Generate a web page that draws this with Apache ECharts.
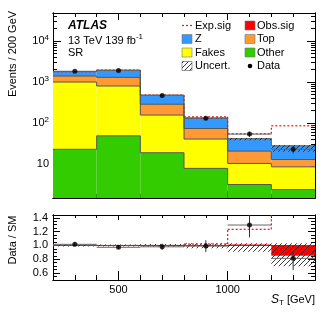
<!DOCTYPE html>
<html><head><meta charset="utf-8">
<script src="https://cdn.jsdelivr.net/npm/echarts@6/dist/echarts.min.js"></script>
<style>html,body{margin:0;padding:0;background:#fff}#c{width:332px;height:319px}</style>
</head><body><div id="c"></div>
<script>
// ---- data ----
const binEdges = [200, 400, 600, 800, 1000, 1200, 1400];
const binCenters = [300, 500, 700, 900, 1100, 1300];
const other = [23, 49, 19, 7.9, 3.2, 2.4];
const fakes = [977, 751, 138, 33, 7.2, 6.2];
const topq = [400, 500, 131, 33, 10.4, 4.4];
const zjets = [400, 650, 192, 59, 21, 15];
const dataVals = [1830, 1900, 470, 132, 54, 23];
const dataErr = [43, 44, 22, 11.5, 7.4, 4.8];
const expSigTotal = [1800, 1950, 480, 142, 55, 86];
const uncLoMain = [1775, 1925, 470, 127, 38.5, 20];
const uncHiMain = [1825, 1975, 490, 137, 43.5, 29.4];
const ratioVals = [1.016, 0.973, 0.98, 0.99, 1.295, 0.813];
const ratioErrLo = [0.03, 0.025, 0.045, 0.085, 0.18, 0.17];
const ratioErrHi = [0.03, 0.025, 0.045, 0.085, 0.20, 0.107];
const expSigRatio = [1.0, 1.0, 1.0, 1.02, 1.233, 3.2];
const obsSigRatio = [1.0, 1.0, 1.0, 1.0, 1.012, 0.85];
const uncLoRatio = [0.985, 0.985, 0.98, 0.96, 0.91, 0.70];
const uncHiRatio = [1.015, 1.015, 1.02, 1.03, 1.03, 1.03];
const xMajorTicks = [500, 1000];
const xMinorTicks = [300, 400, 600, 700, 800, 900, 1100, 1200, 1300];
const yMajorTicks = [10, 100, 1000, 10000];
const ratioMajorTicks = [0.6, 0.8, 1.0, 1.2, 1.4];
const ratioMinorTicks = [0.55, 0.65, 0.7, 0.75, 0.85, 0.9, 0.95, 1.05, 1.1, 1.15, 1.25, 1.3, 1.35];

const yMinorTicks = [];
[1, 10, 100, 1000, 10000].forEach(d => { for (let k = 2; k <= 9; k++) { const v = k * d; if (v > 1.5 && v < 48000) yMinorTicks.push(v); } });

const FONT = 'Liberation Sans, Arial, Helvetica, sans-serif';
const yMin = 1.5, yMax = 48000, rMin = 0.5, rMax = 1.44;

function makeHatch() {
  const c = document.createElement('canvas'); c.width = 5; c.height = 5;
  const g = c.getContext('2d'); g.strokeStyle = '#222'; g.lineWidth = 0.9;
  g.beginPath();
  g.moveTo(0, 5); g.lineTo(5, 0);
  g.moveTo(-1, 1); g.lineTo(1, -1);
  g.moveTo(4, 6); g.lineTo(6, 4);
  g.stroke();
  return c;
}
const hatch = { image: makeHatch(), repeat: 'repeat' };

// ---- axes ----
function xAx(grid, pos, ticks, len, labels) {
  return {
    type: 'value', gridIndex: grid, position: pos, min: 200, max: 1400,
    axisLine: { show: true, onZero: false, lineStyle: { color: '#000', width: 1 } },
    axisTick: { show: true, inside: true, length: len, customValues: ticks, lineStyle: { color: '#000', width: 1 } },
    axisLabel: labels ? { show: true, customValues: ticks, color: '#000', fontSize: 11, fontFamily: FONT, margin: 4, formatter: v => String(Math.round(v)) } : { show: false },
    splitLine: { show: false }
  };
}
function supFmt(v) {
  const e = Math.round(Math.log10(v));
  if (e === 1) return '{b|10}';
  return '{b|10}{s|' + e + '}';
}
function yLog(pos, ticks, len, labels) {
  return {
    type: 'log', logBase: 10, gridIndex: 0, position: pos, min: yMin, max: yMax,
    axisLine: { show: true, onZero: false, lineStyle: { color: '#000', width: 1 } },
    axisTick: { show: true, inside: true, length: len, customValues: ticks, lineStyle: { color: '#000', width: 1 } },
    axisLabel: labels ? {
      show: true, customValues: ticks, color: '#000', fontFamily: FONT, margin: 4, formatter: supFmt,
      rich: { b: { fontSize: 11, fontFamily: FONT, color: '#000' }, s: { fontSize: 8, fontFamily: FONT, color: '#000', padding: [0, 0, 7, 0] } }
    } : { show: false },
    splitLine: { show: false }
  };
}
function yRat(pos, ticks, len, labels) {
  return {
    type: 'value', gridIndex: 1, position: pos, min: rMin, max: rMax,
    axisLine: { show: true, onZero: false, lineStyle: { color: '#000', width: 1 } },
    axisTick: { show: true, inside: true, length: len, customValues: ticks, lineStyle: { color: '#000', width: 1 } },
    axisLabel: labels ? { show: true, customValues: ticks, color: '#000', fontSize: 11, fontFamily: FONT, margin: 5, formatter: v => v.toFixed(1) } : { show: false },
    splitLine: { show: false }
  };
}

// ---- stacked layers ----
const layers = [
  { name: 'Other', vals: other, color: '#33cc00' },
  { name: 'Fakes', vals: fakes, color: '#ffff00' },
  { name: 'Top', vals: topq, color: '#ff9933' },
  { name: 'Z', vals: zjets, color: '#3399ff' }
];
const cum = binCenters.map(() => 0);
const stackSeries = layers.map((L, li) => {
  const data = L.vals.map((v, i) => [binEdges[i], binEdges[i + 1], li === 0 ? yMin : cum[i], cum[i] + v]);
  data.forEach((d, i) => { cum[i] = d[3]; });
  return {
    type: 'custom', name: L.name, xAxisIndex: 0, yAxisIndex: 0, clip: true, z: 2,
    encode: { x: [0, 1], y: [2, 3] }, data,
    renderItem: function (params, api) {
      const i = params.dataIndex;
      const pa = api.coord([api.value(0), api.value(3)]);
      const pb = api.coord([api.value(1), api.value(2)]);
      const ch = [
        { type: 'rect', z2: 0, shape: { x: pa[0], y: pa[1], width: pb[0] - pa[0], height: pb[1] - pa[1] }, style: { fill: L.color } },
        { type: 'line', z2: 10, shape: { x1: pa[0], y1: pa[1], x2: pb[0], y2: pa[1] }, style: { stroke: '#555', lineWidth: 1 } }
      ];
      if (i > 0) {
        const pp = api.coord([api.value(0), data[i - 1][3]]);
        ch.push({ type: 'line', z2: 10, shape: { x1: pa[0], y1: pp[1], x2: pa[0], y2: pa[1] }, style: { stroke: '#555', lineWidth: 1 } });
      }
      return { type: 'group', children: ch };
    }
  };
});

function stepSeries(name, vals, xi, yi, z2, color, dash, width) {
  const data = vals.map((v, i) => [binEdges[i], binEdges[i + 1], v]);
  return {
    type: 'custom', name, xAxisIndex: xi, yAxisIndex: yi, clip: true, z: 2,
    encode: { x: [0, 1], y: 2 }, data,
    renderItem: function (params, api) {
      const i = params.dataIndex;
      const pa = api.coord([api.value(0), api.value(2)]);
      const pb = api.coord([api.value(1), api.value(2)]);
      const st = { stroke: color, lineWidth: width, lineDash: dash, fill: null };
      const ch = [{ type: 'line', z2, shape: { x1: pa[0], y1: pa[1], x2: pb[0], y2: pb[1] }, style: st }];
      if (i > 0) {
        const pp = api.coord([api.value(0), vals[i - 1]]);
        ch.push({ type: 'line', z2, shape: { x1: pa[0], y1: pp[1], x2: pa[0], y2: pa[1] }, style: st });
      }
      return { type: 'group', children: ch };
    }
  };
}

function bandSeries(name, lo, hi, xi, yi, z2, fill) {
  const data = lo.map((v, i) => [binEdges[i], binEdges[i + 1], v, hi[i]]);
  return {
    type: 'custom', name, xAxisIndex: xi, yAxisIndex: yi, clip: true, z: 2,
    encode: { x: [0, 1], y: [2, 3] }, data,
    renderItem: function (params, api) {
      const pa = api.coord([api.value(0), api.value(3)]);
      const pb = api.coord([api.value(1), api.value(2)]);
      const y0 = Math.min(pa[1], pb[1]), h = Math.abs(pb[1] - pa[1]);
      return { type: 'rect', z2, shape: { x: pa[0], y: y0, width: pb[0] - pa[0], height: h }, style: { fill } };
    }
  };
}

function errSeries(name, vals, lo, hi, xi, yi) {
  const data = vals.map((v, i) => [binCenters[i], v, v - lo[i], v + hi[i], binEdges[i], binEdges[i + 1]]);
  return {
    type: 'custom', name, xAxisIndex: xi, yAxisIndex: yi, clip: true, z: 3,
    encode: { x: 0, y: [1, 2, 3] }, data,
    renderItem: function (params, api) {
      const c = api.coord([api.value(0), api.value(1)]);
      const l = api.coord([api.value(0), api.value(2)]);
      const h = api.coord([api.value(0), api.value(3)]);
      const a = api.coord([api.value(4), api.value(1)]);
      const b = api.coord([api.value(5), api.value(1)]);
      return {
        type: 'group', children: [
          { type: 'line', shape: { x1: a[0], y1: c[1], x2: b[0], y2: c[1] }, style: { stroke: '#666', lineWidth: 1 } },
          { type: 'line', shape: { x1: c[0], y1: l[1], x2: c[0], y2: h[1] }, style: { stroke: '#333', lineWidth: 1 } }
        ]
      };
    }
  };
}

const option = {
  animation: false,
  backgroundColor: '#fff',
  grid: [
    { left: 53, top: 13, width: 262, height: 185, containLabel: false, outerBoundsMode: 'none' },
    { left: 53, top: 215, width: 262, height: 65, containLabel: false, outerBoundsMode: 'none' }
  ],
  xAxis: [
    xAx(0, 'bottom', xMinorTicks, 4, false),
    xAx(0, 'bottom', xMajorTicks, 7, false),
    xAx(0, 'top', xMinorTicks, 4, false),
    xAx(0, 'top', xMajorTicks, 7, false),
    xAx(1, 'bottom', xMinorTicks, 5, false),
    xAx(1, 'bottom', xMajorTicks, 9, true),
    xAx(1, 'top', xMinorTicks, 3, false),
    xAx(1, 'top', xMajorTicks, 5, false)
  ],
  yAxis: [
    yLog('left', yMinorTicks, 4, false),
    yLog('left', yMajorTicks, 8, true),
    yLog('right', yMinorTicks, 4, false),
    yLog('right', yMajorTicks, 8, false),
    yRat('left', ratioMinorTicks, 4, false),
    yRat('left', ratioMajorTicks, 7, true),
    yRat('right', ratioMinorTicks, 4, false),
    yRat('right', ratioMajorTicks, 7, false)
  ],
  series: [
    ...stackSeries,
    stepSeries('Exp.sig', expSigTotal, 0, 0, 5, '#ee1111', [2, 2], 1.2),
    bandSeries('Uncert.', uncLoMain, uncHiMain, 0, 0, 12, hatch),
    errSeries('Data err', dataVals, dataErr, dataErr, 0, 0),
    { type: 'scatter', name: 'Data', xAxisIndex: 0, yAxisIndex: 0, z: 4, symbol: 'circle', symbolSize: 5,
      itemStyle: { color: '#000' }, data: binCenters.map((x, i) => [x, dataVals[i]]) },
    // ratio
    bandSeries('Obs.sig', obsSigRatio.map(() => 1.0), obsSigRatio, 4, 4, 1, '#ff0000'),
    bandSeries('Uncert. ratio', uncLoRatio, uncHiRatio, 4, 4, 3, hatch),
    stepSeries('Exp.sig ratio', expSigRatio, 4, 4, 8, '#ee1111', [2, 2], 1.2),
    errSeries('Data err ratio', ratioVals, ratioErrLo, ratioErrHi, 4, 4),
    { type: 'scatter', name: 'Data ratio', xAxisIndex: 4, yAxisIndex: 4, z: 4, symbol: 'circle', symbolSize: 5,
      itemStyle: { color: '#000' }, data: binCenters.map((x, i) => [x, ratioVals[i]]),
      markLine: { silent: true, symbol: ['none', 'none'], z: 2, label: { show: false },
        lineStyle: { color: '#555', width: 1, type: 'solid' }, data: [{ yAxis: 1 }] } }
  ],
  graphic: [
    { type: 'text', style: { text: 'ATLAS', x: 68, y: 26, font: 'italic bold 12px ' + FONT, fill: '#000', textVerticalAlign: 'middle', verticalAlign: 'middle' } },
    { type: 'text', style: { text: '{a|13 TeV 139 fb}{s|-1}', x: 68, y: 40.5, fill: '#000', textVerticalAlign: 'middle', verticalAlign: 'middle',
        rich: { a: { fontSize: 11, fontFamily: FONT }, s: { fontSize: 8, fontFamily: FONT, padding: [0, 0, 7, 0] } } } },
    { type: 'text', style: { text: 'SR', x: 68, y: 53, font: '11px ' + FONT, fill: '#000', textVerticalAlign: 'middle', verticalAlign: 'middle' } },
    { type: 'text', rotation: Math.PI / 2, x: 13, y: 54, style: { text: 'Events / 200 GeV', x: 0, y: 0, font: '11px ' + FONT, fill: '#000', textAlign: 'center', align: 'center', textVerticalAlign: 'middle', verticalAlign: 'middle' } },
    { type: 'text', rotation: Math.PI / 2, x: 13, y: 240, style: { text: 'Data / SM', x: 0, y: 0, font: '11px ' + FONT, fill: '#000', textAlign: 'center', align: 'center', textVerticalAlign: 'middle', verticalAlign: 'middle' } },
    { type: 'text', style: { text: '{i|S}{t|T}{n| [GeV]}', x: 315, y: 300, fill: '#000', textAlign: 'right', align: 'right', textVerticalAlign: 'middle', verticalAlign: 'middle',
        rich: { i: { fontSize: 12, fontStyle: 'italic', fontFamily: FONT }, t: { fontSize: 8, fontFamily: FONT, padding: [5, 0, 0, 0] }, n: { fontSize: 11, fontFamily: FONT } } } },
    // legend
    { type: 'line', shape: { x1: 182, y1: 25.5, x2: 193, y2: 25.5 }, style: { stroke: '#ee1111', lineWidth: 1.2, lineDash: [2, 2] } },
    { type: 'text', style: { text: 'Exp.sig', x: 195, y: 25.5, font: '11px ' + FONT, fill: '#000', textVerticalAlign: 'middle', verticalAlign: 'middle' } },
    { type: 'rect', shape: { x: 182, y: 34.5, width: 10, height: 9 }, style: { fill: '#3399ff', stroke: '#777', lineWidth: 0.6 } },
    { type: 'text', style: { text: 'Z', x: 195, y: 39, font: '11px ' + FONT, fill: '#000', textVerticalAlign: 'middle', verticalAlign: 'middle' } },
    { type: 'rect', shape: { x: 182, y: 48, width: 10, height: 9 }, style: { fill: '#ffff00', stroke: '#777', lineWidth: 0.6 } },
    { type: 'text', style: { text: 'Fakes', x: 195, y: 52.5, font: '11px ' + FONT, fill: '#000', textVerticalAlign: 'middle', verticalAlign: 'middle' } },
    { type: 'rect', shape: { x: 182, y: 61.5, width: 10, height: 9 }, style: { fill: hatch, stroke: '#555', lineWidth: 0.6 } },
    { type: 'text', style: { text: 'Uncert.', x: 195, y: 66, font: '11px ' + FONT, fill: '#000', textVerticalAlign: 'middle', verticalAlign: 'middle' } },
    { type: 'rect', shape: { x: 245, y: 21, width: 10, height: 9 }, style: { fill: '#ff0000', stroke: '#777', lineWidth: 0.6 } },
    { type: 'text', style: { text: 'Obs.sig', x: 257, y: 25.5, font: '11px ' + FONT, fill: '#000', textVerticalAlign: 'middle', verticalAlign: 'middle' } },
    { type: 'rect', shape: { x: 245, y: 34.5, width: 10, height: 9 }, style: { fill: '#ff9933', stroke: '#777', lineWidth: 0.6 } },
    { type: 'text', style: { text: 'Top', x: 257, y: 39, font: '11px ' + FONT, fill: '#000', textVerticalAlign: 'middle', verticalAlign: 'middle' } },
    { type: 'rect', shape: { x: 245, y: 48, width: 10, height: 9 }, style: { fill: '#33cc00', stroke: '#777', lineWidth: 0.6 } },
    { type: 'text', style: { text: 'Other', x: 257, y: 52.5, font: '11px ' + FONT, fill: '#000', textVerticalAlign: 'middle', verticalAlign: 'middle' } },
    { type: 'circle', shape: { cx: 250, cy: 66, r: 2.3 }, style: { fill: '#000' } },
    { type: 'text', style: { text: 'Data', x: 257, y: 66, font: '11px ' + FONT, fill: '#000', textVerticalAlign: 'middle', verticalAlign: 'middle' } }
  ]
};
const chart = echarts.init(document.getElementById('c'), null, { renderer: 'canvas', width: 332, height: 319 });
chart.setOption(option);
</script>
</body></html>
